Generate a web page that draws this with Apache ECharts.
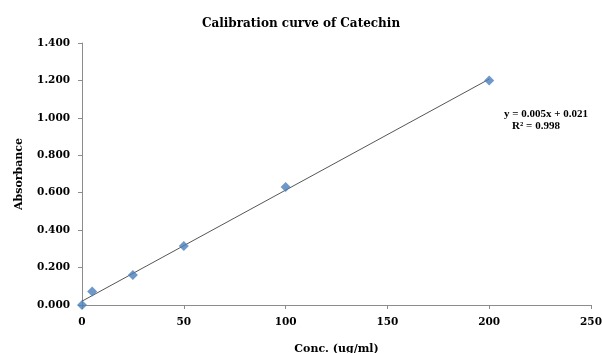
<!DOCTYPE html>
<html><head><meta charset="utf-8">
<script src="https://cdn.jsdelivr.net/npm/echarts@6/dist/echarts.min.js"></script>
<style>html,body{margin:0;padding:0;background:#fff}#c{width:602px;height:353px}</style>
</head><body><div id="c"></div>
<script>
const concentrations = [0, 5, 25, 50, 100, 200];
const absorbance = [0.000, 0.072, 0.160, 0.315, 0.630, 1.200];
const equationText = 'y = 0.005x + 0.021';
const r2Text = 'R² = 0.998';

// least squares trendline from the data
const n = concentrations.length;
const mx = concentrations.reduce((a,b)=>a+b,0)/n;
const my = absorbance.reduce((a,b)=>a+b,0)/n;
let sxy=0,sxx=0;
for(let i=0;i<n;i++){sxy+=(concentrations[i]-mx)*(absorbance[i]-my);sxx+=(concentrations[i]-mx)**2;}
const slope=sxy/sxx, intercept=my-slope*mx;
const xs0=concentrations[0], xs1=concentrations[n-1];
const trend=[[xs0,intercept+slope*xs0],[xs1,intercept+slope*xs1]];

const font='"DejaVu Serif",serif';
const font2='"Liberation Serif","Times New Roman",serif';
const chart=echarts.init(document.getElementById('c'));
chart.setOption({
  animation:false,
  title:{text:'Calibration curve of Catechin',left:'center',top:13,
    textStyle:{fontFamily:font,fontSize:12,fontWeight:'bold',color:'#000'}},
  grid:{left:82,right:11,top:43,bottom:48,containLabel:false,outerBoundsMode:'none'},
  xAxis:{type:'value',min:0,max:250,interval:50,
    name:'Conc. (ug/ml)',nameLocation:'middle',nameGap:39,
    nameTextStyle:{fontFamily:font,fontSize:11,fontWeight:'bold',color:'#000'},
    axisLine:{lineStyle:{color:'#8c8c8c'}},
    axisTick:{show:true,length:4,lineStyle:{color:'#8c8c8c'}},
    axisLabel:{fontFamily:font,fontSize:10.5,fontWeight:'bold',color:'#000',margin:12},
    splitLine:{show:false}},
  yAxis:{type:'value',min:0,max:1.4,interval:0.2,
    name:'Absorbance',nameLocation:'middle',nameGap:57,nameRotate:90,
    nameTextStyle:{fontFamily:font,fontSize:11,fontWeight:'bold',color:'#000'},
    axisLine:{show:true,lineStyle:{color:'#8c8c8c'}},
    axisTick:{show:true,length:4,lineStyle:{color:'#8c8c8c'}},
    axisLabel:{fontFamily:font,fontSize:10.5,fontWeight:'bold',color:'#000',margin:12,
      formatter:v=>v.toFixed(3)},
    splitLine:{show:false}},
  series:[
    {type:'line',data:trend,symbol:'none',silent:true,
      lineStyle:{color:'#555',width:1},z:2},
    {type:'scatter',data:concentrations.map((x,i)=>[x,absorbance[i]]),
      symbol:'diamond',symbolSize:10,itemStyle:{color:'#4a7ebb'},z:3}
  ],
  graphic:[
    {type:'text',x:546,y:114,style:{text:equationText,font:'bold 11px '+font2,fill:'#000',align:'center',verticalAlign:'middle'}},
    {type:'text',x:536,y:126,style:{text:r2Text,font:'bold 11px '+font2,fill:'#000',align:'center',verticalAlign:'middle'}}
  ]
});
</script></body></html>
